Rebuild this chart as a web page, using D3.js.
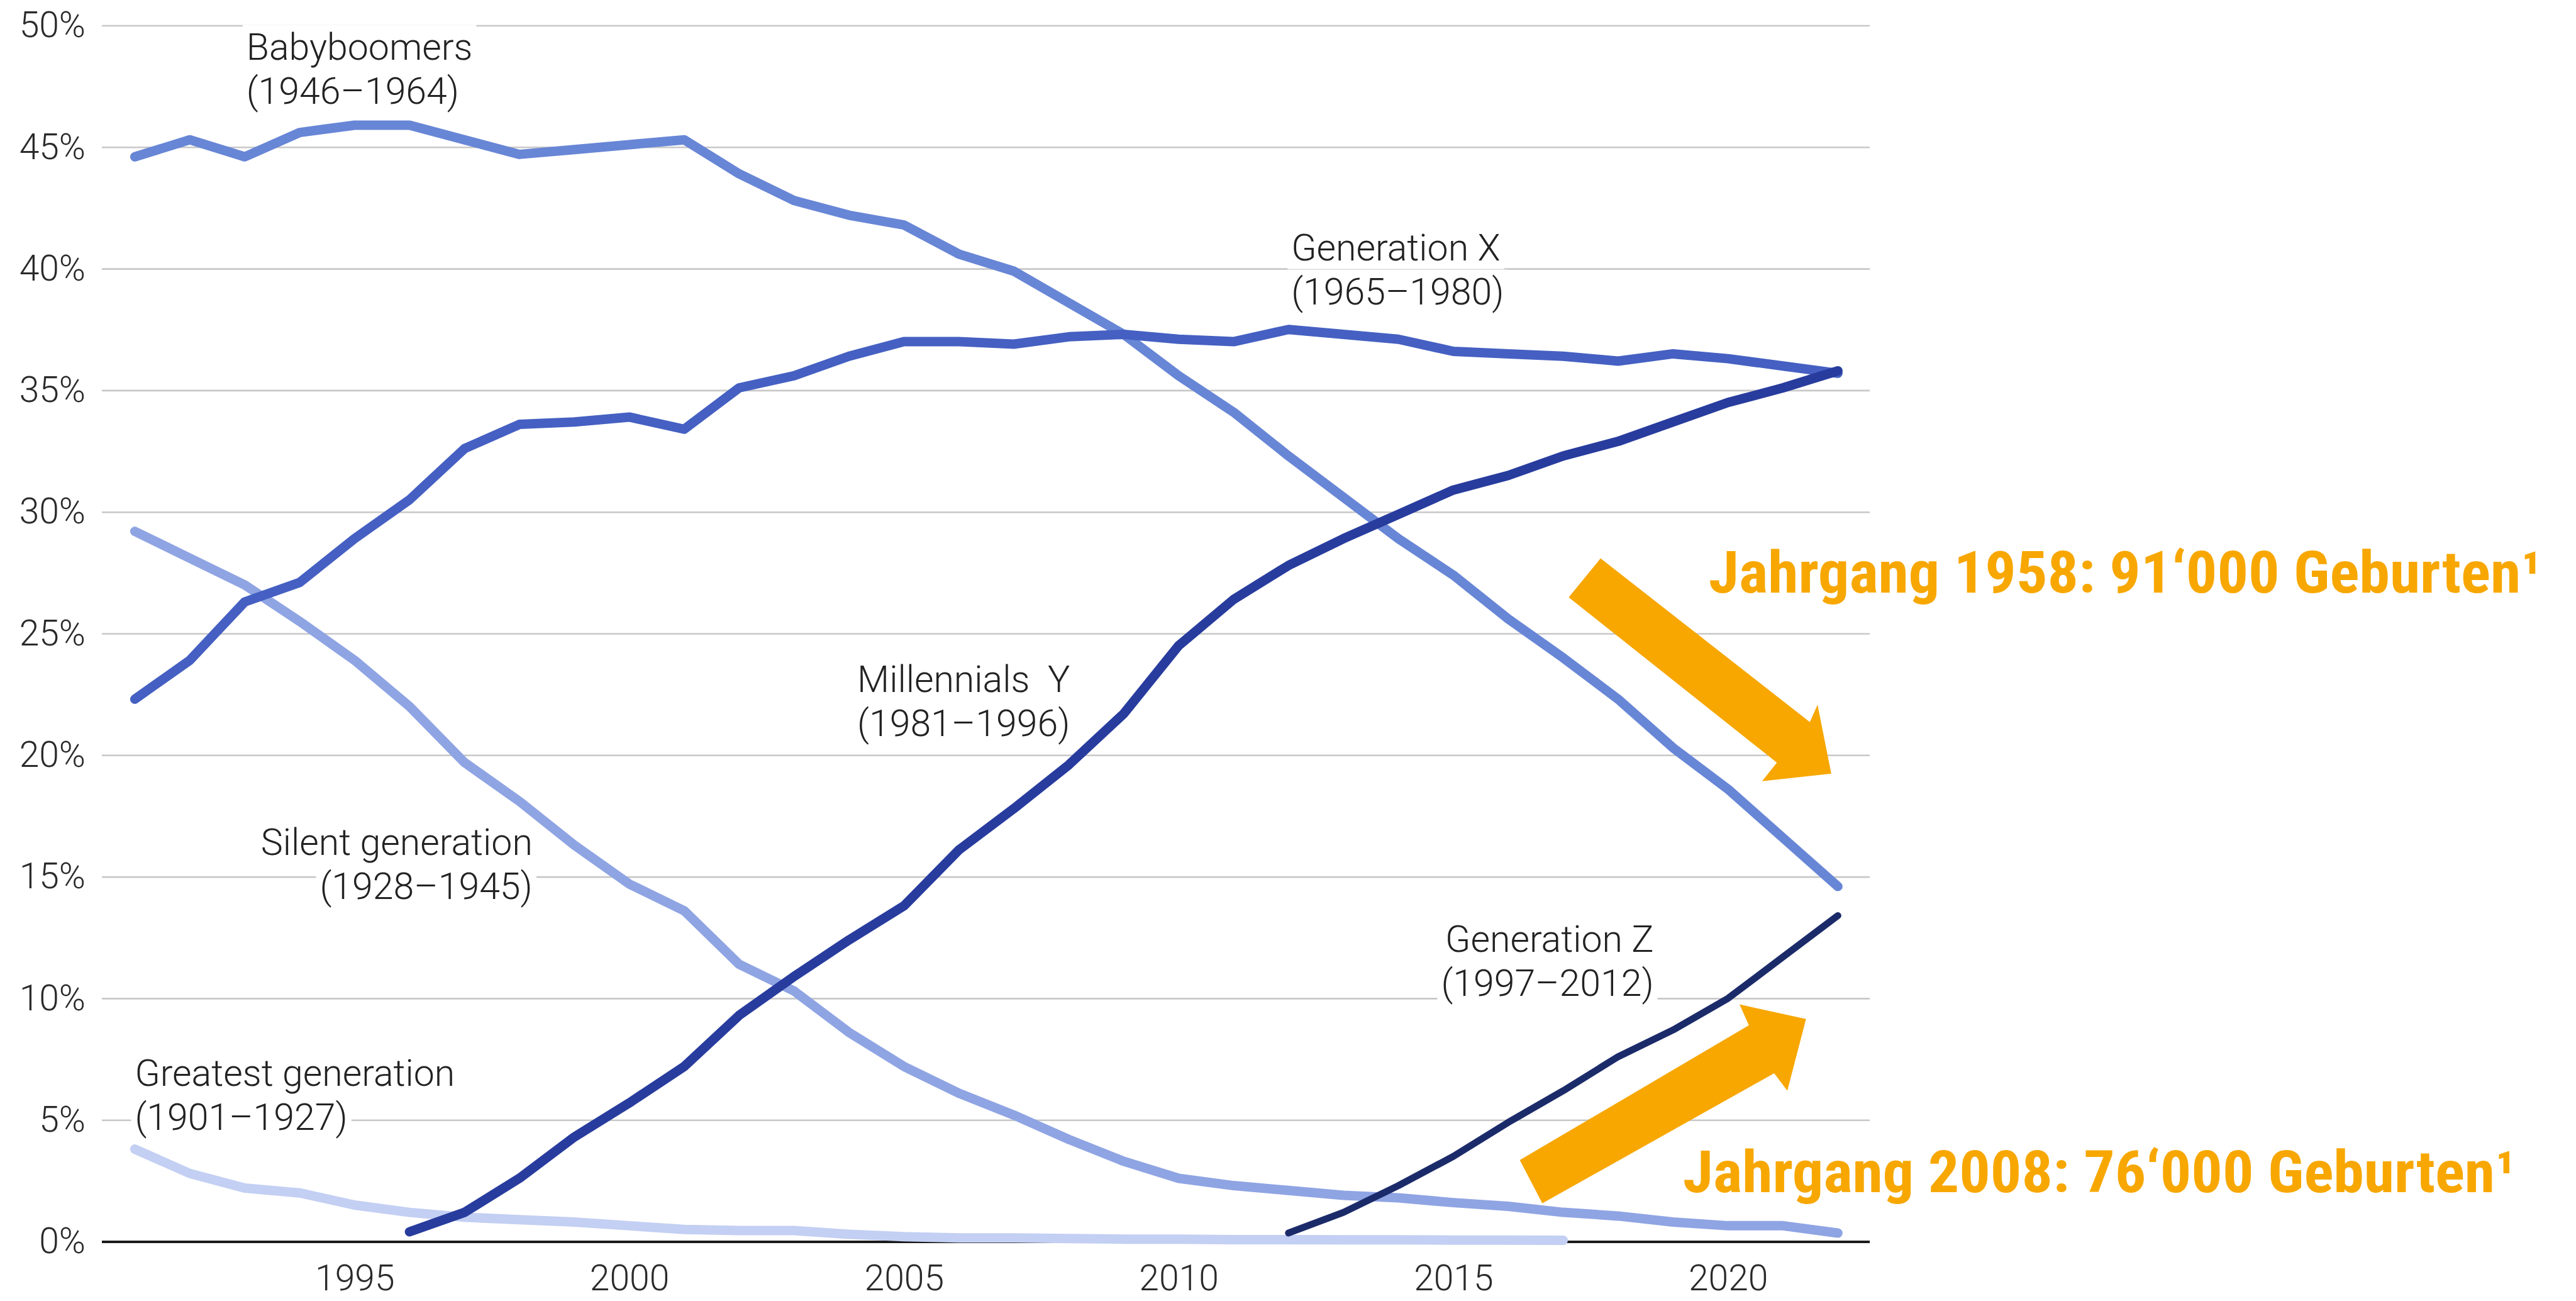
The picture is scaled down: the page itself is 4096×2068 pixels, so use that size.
<!DOCTYPE html>
<html>
<head>
<meta charset="utf-8">
<script src="https://cdn.jsdelivr.net/npm/d3@7"></script>
<style>
  html, body { margin: 0; padding: 0; background: #fff; }
</style>
</head>
<body>
<div id="chart"></div>
<script>
// years on the x axis
const years = [1991, 1992, 1993, 1994, 1995, 1996, 1997, 1998, 1999, 2000,
  2001, 2002, 2003, 2004, 2005, 2006, 2007, 2008, 2009, 2010,
  2011, 2012, 2013, 2014, 2015, 2016, 2017, 2018, 2019, 2020, 2021, 2022];

// share of population per generation, in %
const babyboomers = [44.6, 45.3, 44.6, 45.6, 45.9, 45.9, 45.3, 44.7, 44.9, 45.1,
  45.3, 43.9, 42.8, 42.2, 41.8, 40.6, 39.9, 38.6, 37.3, 35.6,
  34.1, 32.3, 30.6, 28.9, 27.4, 25.6, 24.0, 22.3, 20.3, 18.6, 16.6, 14.6];
const genX = [22.3, 23.9, 26.3, 27.1, 28.9, 30.5, 32.6, 33.6, 33.7, 33.9,
  33.4, 35.1, 35.6, 36.4, 37.0, 37.0, 36.9, 37.2, 37.3, 37.1,
  37.0, 37.5, 37.3, 37.1, 36.6, 36.5, 36.4, 36.2, 36.5, 36.3, 36.0, 35.7];
const millennials = [null, null, null, null, null, 0.4, 1.2, 2.6, 4.3, 5.7,
  7.2, 9.3, 10.9, 12.4, 13.8, 16.1, 17.8, 19.6, 21.7, 24.5,
  26.4, 27.8, 28.9, 29.9, 30.9, 31.5, 32.3, 32.9, 33.7, 34.5, 35.1, 35.8];
const silent = [29.2, 28.1, 27.0, 25.5, 23.9, 22.0, 19.7, 18.1, 16.3, 14.7,
  13.6, 11.4, 10.3, 8.6, 7.2, 6.1, 5.2, 4.2, 3.3, 2.6,
  2.3, 2.1, 1.9, 1.8, 1.6, 1.45, 1.2, 1.05, 0.8, 0.65, 0.65, 0.35];
const greatest = [3.8, 2.8, 2.2, 2.0, 1.5, 1.2, 1.0, 0.9, 0.8, 0.65,
  0.5, 0.45, 0.45, 0.3, 0.2, 0.15, 0.15, 0.12, 0.1, 0.1,
  0.08, 0.08, 0.07, 0.07, 0.06, 0.06, 0.05, null, null, null, null, null];
const genZ = [null, null, null, null, null, null, null, null, null, null,
  null, null, null, null, null, null, null, null, null, null,
  null, 0.35, 1.2, 2.3, 3.5, 4.9, 6.2, 7.6, 8.7, 10.0, 11.7, 13.4];

const yTicks = [0, 5, 10, 15, 20, 25, 30, 35, 40, 45, 50];
const xTicks = [1995, 2000, 2005, 2010, 2015, 2020];

// series drawing order and colours
const series = [
  { values: greatest, color: '#c3cff3', width: 15 },
  { values: silent, color: '#8fa4e3', width: 15 },
  { values: babyboomers, color: '#6886d6', width: 15 },
  { values: genX, color: '#4560c2', width: 15 },
  { values: millennials, color: '#283c9e', width: 15 },
  { values: genZ, color: '#1b2b6a', width: 11 }
];

// line labels, anchored at [year, %] of the first baseline
const labels = [
  { lines: ['Babyboomers', '(1946–1964)'], at: [1993.03, 48.6], anchor: 'start' },
  { lines: ['Generation X', '(1965–1980)'], at: [2012.05, 40.35], anchor: 'start' },
  { lines: ['Millennials\u00a0 Y', '(1981–1996)'], at: [2004.15, 22.6], anchor: 'start' },
  { lines: ['Silent generation', '(1928–1945)'], at: [1998.24, 15.9], anchor: 'end' },
  { lines: ['Generation Z', '(1997–2012)'], at: [2018.65, 11.9], anchor: 'end' },
  { lines: ['Greatest generation', '(1901–1927)'], at: [1991.0, 6.39], anchor: 'start' }
];

// orange call-outs, arrows as [year, %] polygons
const arrowDown = [[2017.68, 28.09], [2021.49, 21.36], [2021.63, 22.07], [2021.88, 19.24],
  [2020.62, 18.93], [2020.89, 19.69], [2017.10, 26.49]];
const arrowUp = [[2016.62, 1.57], [2016.21, 3.35], [2020.38, 8.89], [2020.21, 9.75],
  [2021.42, 9.15], [2021.08, 6.2], [2020.84, 6.92]];
const callouts = [
  { text: 'Jahrgang 1958: 91‘000 Geburten¹', at: [2019.65, 26.68] },
  { text: 'Jahrgang 2008: 76‘000 Geburten¹', at: [2019.18, 2.03] }
];

const W = 4096, H = 2068;
const plotLeft = 162, plotRight = 2973, plotBottom = 1973.5, plotTop = 40.5;
const font = "Roboto, 'Open Sans', 'DejaVu Sans', sans-serif";
const orange = '#f7a700';

const svg = d3.select('#chart').append('svg')
  .attr('width', W)
  .attr('height', H)
  .style('display', 'block')
  .style('background', '#fff');

const x = d3.scaleLinear().domain([1990.4, 2022.58]).range([plotLeft, plotRight]);
const y = d3.scaleLinear().domain([0, 50]).range([plotBottom, plotTop]);

// y axis with gridlines
const yAxis = svg.append('g')
  .attr('transform', `translate(${plotLeft},0)`)
  .call(d3.axisLeft(y).tickValues(yTicks).tickSize(-(plotRight - plotLeft)).tickPadding(26)
    .tickFormat(d => d + '%'));
yAxis.select('.domain').remove();
yAxis.selectAll('.tick line')
  .attr('stroke', d => d === 0 ? '#1a1a1a' : '#c8c8c8')
  .attr('stroke-width', d => d === 0 ? 4 : 2.6);
yAxis.selectAll('.tick text')
  .attr('font-family', font)
  .attr('font-weight', 300)
  .attr('font-size', 57)
  .attr('fill', '#2a2a2a');

// x axis labels
const xAxis = svg.append('g')
  .attr('transform', `translate(0,${plotBottom})`)
  .call(d3.axisBottom(x).tickValues(xTicks).tickSize(0).tickPadding(37)
    .tickFormat(d3.format('d')));
xAxis.select('.domain').remove();
xAxis.selectAll('.tick text')
  .attr('font-family', font)
  .attr('font-weight', 300)
  .attr('font-size', 57)
  .attr('fill', '#2a2a2a');

// line labels with white boxes that cut the gridlines
const lineH = 70;
labels.forEach(l => {
  const g = svg.append('g');
  l.lines.forEach((t, i) => {
    const txt = g.append('text')
      .attr('x', x(l.at[0]))
      .attr('y', y(l.at[1]) + i * lineH)
      .attr('text-anchor', l.anchor)
      .attr('font-family', font)
      .attr('font-weight', 300)
      .attr('font-size', 59)
      .attr('fill', '#222')
      .text(t);
    const b = txt.node().getBBox();
    g.insert('rect', 'text')
      .attr('x', b.x - 6).attr('y', b.y)
      .attr('width', b.width + 12).attr('height', b.height)
      .attr('fill', '#fff');
  });
});

// lines
const line = d3.line()
  .defined(d => d[1] !== null)
  .x(d => x(d[0]))
  .y(d => y(d[1]));

series.forEach(s => {
  svg.append('path')
    .datum(years.map((yr, i) => [yr, s.values[i]]))
    .attr('d', line)
    .attr('fill', 'none')
    .attr('stroke', s.color)
    .attr('stroke-width', s.width)
    .attr('stroke-linejoin', 'round')
    .attr('stroke-linecap', 'round');
});

// arrows
const poly = d3.line().x(d => x(d[0])).y(d => y(d[1]));
[arrowDown, arrowUp].forEach(a => {
  svg.append('path')
    .attr('d', poly(a) + 'Z')
    .attr('fill', orange);
});

// orange call-out texts
callouts.forEach(c => {
  svg.append('text')
    .attr('x', x(c.at[0]))
    .attr('y', y(c.at[1]))
    .attr('font-family', "'Roboto Condensed', 'Liberation Sans Narrow', 'DejaVu Sans Condensed', 'DejaVu Sans', sans-serif")
    .attr('font-weight', 700)
    .attr('font-size', 92)
    .attr('fill', orange)
    .attr('textLength', 1324)
    .attr('lengthAdjust', 'spacingAndGlyphs')
    .text(c.text);
});
</script>
</body>
</html>
